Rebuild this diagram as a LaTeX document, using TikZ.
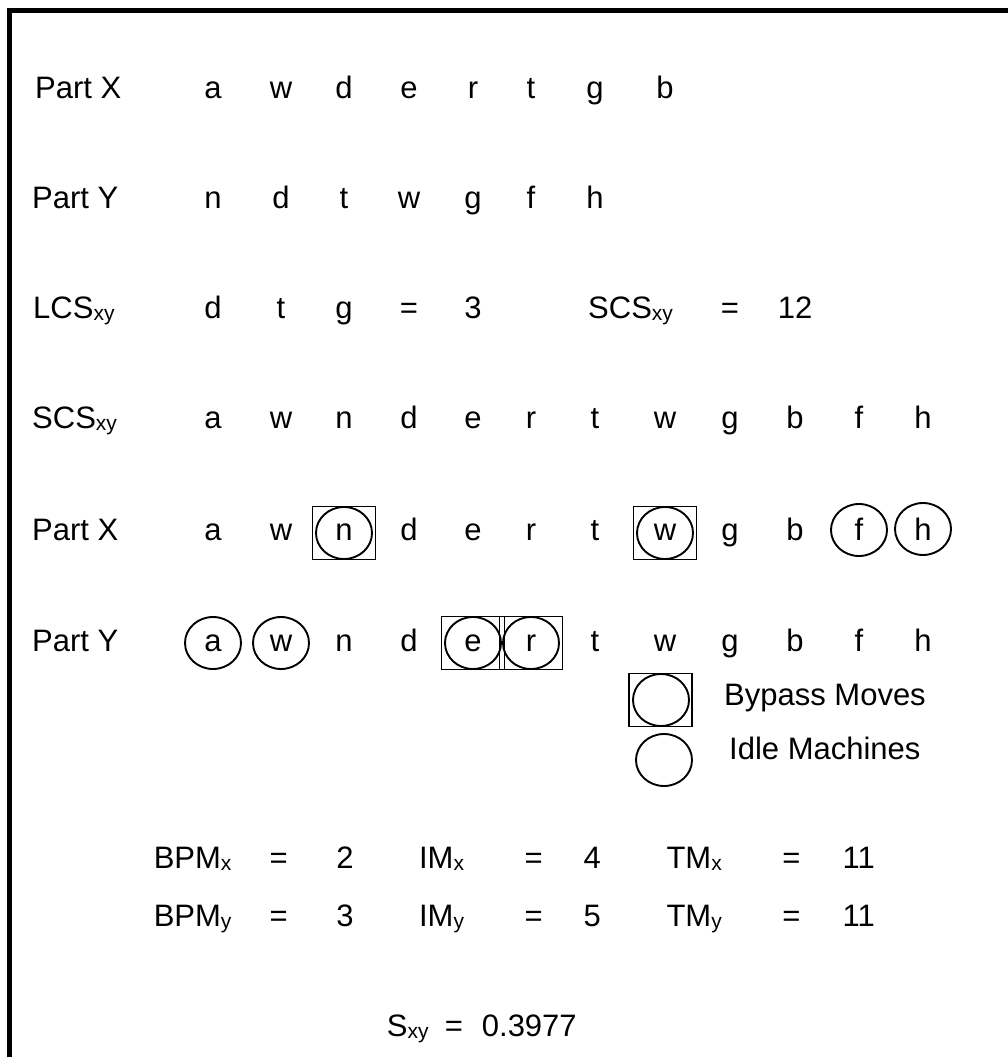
\documentclass[tikz,border=0pt]{standalone}
\usepackage{fontspec}
\setmainfont{Liberation Sans}
\usetikzlibrary{shapes.geometric}
\newcommand\fs{\fontsize{31}{37}\selectfont}
\newcommand\sbs[1]{\raisebox{-2pt}{\fontsize{21}{21}\selectfont #1}}
\def\colx{{213,281,344,409,473,531,595,665,730,795,859,923}}
\begin{document}
\begin{tikzpicture}[x=1pt,y=-1pt,
  txt/.style={font=\fs, inner sep=0pt, anchor=base},
  lbl/.style={font=\fs, inner sep=0pt, anchor=base west},
  idle/.style={draw, ellipse, line width=1.9pt, minimum width=56pt, minimum height=52pt, inner sep=0pt},
  bpm/.style={draw, rectangle, line width=1.9pt, minimum width=63pt, minimum height=53pt, inner sep=0pt}]
\useasboundingbox (0,0) rectangle (1008,1057);
\draw[line width=4.5pt] (9.7,1057) -- (9.7,10.3) -- (1008,10.3);

% row 1
\node[lbl] (l1) at (35,98) {Part X};
\foreach \ch [count=\i from 1] in {a,w,d,e,r,t,g,b}
  \node[txt] (r1c\i) at ({\colx[\i-1]},98) {\ch};
% row 2
\node[lbl] (l2) at (32,208) {Part Y};
\foreach \ch [count=\i from 1] in {n,d,t,w,g,f,h}
  \node[txt] (r2c\i) at ({\colx[\i-1]},208) {\ch};
% row 3
\node[lbl] (l3) at (33,318) {LCS\sbs{xy}};
\foreach \ch [count=\i from 1] in {d,t,g,=,3}
  \node[txt] (r3c\i) at ({\colx[\i-1]},318) {\ch};
\node[lbl] (l3b) at (588,318) {SCS\sbs{xy}};
\node[txt] (r3c9) at (730,318) {=};
\node[txt] (r3c10) at (795,318) {12};
% row 4
\node[lbl] (l4) at (32,428) {SCS\sbs{xy}};
\foreach \ch [count=\i from 1] in {a,w,n,d,e,r,t,w,g,b,f,h}
  \node[txt] (r4c\i) at ({\colx[\i-1]},428) {\ch};
% row 5
\node[lbl] (l5) at (32,540) {Part X};
\foreach \ch [count=\i from 1] in {a,w,n,d,e,r,t,w,g,b,f,h}
  \node[txt] (r5c\i) at ({\colx[\i-1]},540) {\ch};
% row 6
\node[lbl] (l6) at (32,651) {Part Y};
\foreach \ch [count=\i from 1] in {a,w,n,d,e,r,t,w,g,b,f,h}
  \node[txt] (r6c\i) at ({\colx[\i-1]},651) {\ch};

% marks row 5
\node[bpm, yshift=7pt] (b5c3) at (r5c3.base) {};
\node[idle, yshift=7pt] (e5c3) at (r5c3.base) {};
\node[bpm, yshift=7pt] (b5c8) at (r5c8.base) {};
\node[idle, yshift=7pt] (e5c8) at (r5c8.base) {};
\node[idle, yshift=10pt] (e5c11) at (r5c11.base) {};
\node[idle, yshift=11pt] (e5c12) at (r5c12.base) {};
% marks row 6
\node[idle, yshift=8pt] (e6c1) at (r6c1.base) {};
\node[idle, yshift=8pt] (e6c2) at (r6c2.base) {};
\node[bpm, yshift=8pt] (b6c5) at (r6c5.base) {};
\node[idle, yshift=8pt] (e6c5) at (r6c5.base) {};
\node[bpm, yshift=8pt] (b6c6) at (r6c6.base) {};
\node[idle, yshift=8pt] (e6c6) at (r6c6.base) {};

% legend
\node[bpm] (legb) at (660.5,700) {};
\node[idle] (legbc) at (661,700) {};
\node[lbl] (legbt) at (724,705) {Bypass Moves};
\node[idle] (legi) at (664,760) {};
\node[lbl] (legit) at (729,759) {Idle Machines};

% measures
\node[lbl] (bx) at (153.6,868) {BPM\sbs{x}};
\node[txt] (bxe) at (278.6,868) {=};
\node[txt] (bxv) at (345,868) {2};
\node[lbl] (ix) at (418.9,868) {IM\sbs{x}};
\node[txt] (ixe) at (533.7,868) {=};
\node[txt] (ixv) at (592.3,868) {4};
\node[lbl] (tx) at (666.3,868) {TM\sbs{x}};
\node[txt] (txe) at (791.3,868) {=};
\node[txt] (txv) at (858.7,868) {11};

\node[lbl] (by) at (153.6,926) {BPM\sbs{y}};
\node[txt] (bye) at (278.6,926) {=};
\node[txt] (byv) at (345,926) {3};
\node[lbl] (iy) at (418.9,926) {IM\sbs{y}};
\node[txt] (iye) at (533.7,926) {=};
\node[txt] (iyv) at (592.3,926) {5};
\node[lbl] (ty) at (666.3,926) {TM\sbs{y}};
\node[txt] (tye) at (791.3,926) {=};
\node[txt] (tyv) at (858.7,926) {11};

% similarity
\node[lbl] (s) at (386.7,1036) {S\sbs{xy}};
\node[txt] (se) at (454,1036) {=};
\node[lbl] (sv) at (481.7,1036) {0.3977};
\end{tikzpicture}
\end{document}
